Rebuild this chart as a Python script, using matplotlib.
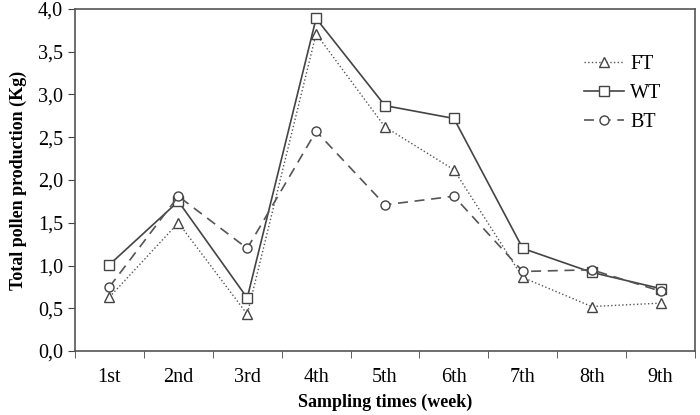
import matplotlib
matplotlib.use("Agg")
import matplotlib.pyplot as plt
from matplotlib.ticker import FuncFormatter
import numpy as np

categories = ["1st", "2nd", "3rd", "4th", "5th", "6th", "7th", "8th", "9th"]
ft = [0.63, 1.50, 0.43, 3.71, 2.62, 2.12, 0.86, 0.52, 0.56]
wt = [1.01, 1.75, 0.62, 3.89, 2.87, 2.72, 1.20, 0.92, 0.73]
bt = [0.75, 1.81, 1.20, 2.57, 1.71, 1.81, 0.93, 0.95, 0.70]

plt.rcParams['font.family'] = ['Liberation Serif', 'DejaVu Serif']

fig = plt.figure(figsize=(7, 4.15), dpi=100)
ax = fig.add_axes([75/700, 1-351/415, 620/700, 342/415])

x = np.arange(len(categories))
ms = 6.5
ax.plot(x, ft, linestyle=':', color='#555555', lw=1, marker='^', ms=ms,
        mfc='white', mec='#444444', mew=1, label='FT')
ax.plot(x, wt, linestyle='-', color='#444444', lw=1.2, marker='s', ms=ms,
        mfc='white', mec='#444444', mew=1, label='WT')
ax.plot(x, bt, linestyle=(0, (6, 4)), color='#555555', lw=1.2, marker='o', ms=ms,
        mfc='white', mec='#444444', mew=1, label='BT')

ax.set_xlim(-0.5, len(categories) - 0.5)
ax.set_ylim(0, 4.0)
ax.set_xticks(x)
ax.set_xticklabels(categories)
ax.set_xticks(np.arange(-0.5, len(categories), 1), minor=True)
ax.tick_params(axis='x', which='major', length=0, pad=12, labelsize=14.5)
ax.tick_params(axis='x', which='minor', length=5, direction='out', color='#444444')
ax.set_yticks(np.arange(0, 4.01, 0.5))
ax.yaxis.set_major_formatter(FuncFormatter(lambda v, p: f"{v:.1f}".replace('.', ',')))
ax.tick_params(axis='y', length=5, direction='out', labelsize=14.5, color='#444444')

for s in ax.spines.values():
    s.set_color('#555555')
    s.set_linewidth(1.2)

ax.set_xlabel('Sampling times (week)', fontsize=13, fontweight='bold', labelpad=5)
ax.set_ylabel('Total pollen production (Kg)', fontsize=13, fontweight='bold', labelpad=8)

leg = ax.legend(loc='upper right', bbox_to_anchor=(0.975, 0.92), frameon=False,
                fontsize=14.5, handlelength=2.0, labelspacing=0.5, handletextpad=0.3)

fig.savefig('out.png', dpi=100)
